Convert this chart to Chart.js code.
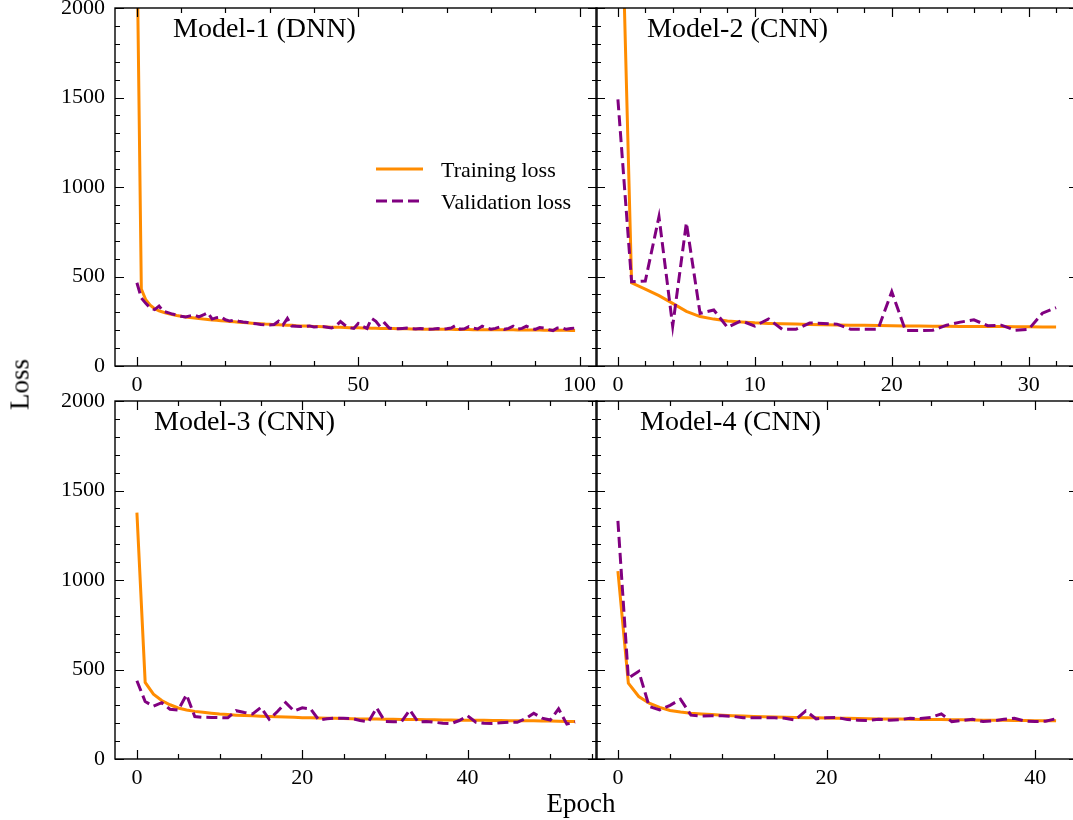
<!DOCTYPE html>
<html>
<head>
<meta charset="utf-8">
<script src="https://cdn.jsdelivr.net/npm/chart.js@4.4.1/dist/chart.umd.min.js"></script>
<style>
  html, body { margin: 0; padding: 0; width: 1073px; height: 820px; overflow: hidden; background: #fff; }
  .panel { position: absolute; }
  canvas { display: block; }
  .lbl { position: absolute; font-family: 'Liberation Serif', 'Times New Roman', serif; font-size: 27px;
         line-height: 27px; color: #000; text-align: center; white-space: nowrap; }
</style>
</head>
<body>
<div class="panel" style="left:0;top:0"><canvas id="c1" width="610" height="400"></canvas></div>
<div class="panel" style="left:586px;top:0"><canvas id="c2" width="505" height="400"></canvas></div>
<div class="panel" style="left:0;top:390px"><canvas id="c3" width="610" height="403"></canvas></div>
<div class="panel" style="left:586px;top:390px"><canvas id="c4" width="505" height="403"></canvas></div>
<div class="lbl" style="left:481px;top:790px;width:200px">Epoch</div>
<div class="lbl" style="left:-30px;top:371px;width:100px;transform:rotate(-90deg)">Loss</div>
<script>
// tick labels
const yTicks = [0, 500, 1000, 1500, 2000];
const m1Ticks = [0, 50, 100];
const m2Ticks = [0, 10, 20, 30];
const m3Ticks = [0, 20, 40];
const m4Ticks = [0, 20, 40];

// Model-1 (DNN), 100 epochs
const m1Train = [2400, 430, 370, 340, 320, 308, 300, 293, 287, 282,
  278, 274, 271, 268, 265, 262, 260, 257, 255, 253,
  251, 249, 247, 245, 243, 241, 239, 237, 236, 234,
  233, 231, 230, 229, 228, 227, 225, 224, 223, 222,
  221, 220, 219, 218, 217, 217, 216, 215, 214, 214,
  213, 212, 212, 211, 211, 210, 210, 209, 209, 208,
  208, 208, 207, 207, 207, 206, 206, 206, 205, 205,
  205, 205, 204, 204, 204, 204, 203, 203, 203, 203,
  203, 202, 202, 202, 202, 202, 201, 201, 201, 201,
  201, 201, 200, 200, 200, 200, 200, 200, 199, 199];
const m1Val = [465, 380, 350, 325, 315, 335, 305, 298, 290, 285,
  278, 274, 280, 285, 275, 285, 298, 262, 270, 275,
  258, 251, 257, 250, 246, 243, 238, 236, 232, 230,
  229, 232, 250, 229, 266, 223, 222, 220, 221, 224,
  218, 219, 220, 216, 212, 225, 248, 228, 214, 210,
  238, 222, 210, 266, 250, 218, 240, 212, 207, 208,
  210, 212, 209, 207, 210, 208, 206, 207, 209, 206,
  208, 212, 226, 206, 208, 220, 212, 207, 222, 212,
  206, 210, 218, 205, 210, 222, 206, 210, 222, 212,
  204, 215, 212, 203, 198, 212, 214, 205, 210, 212];

// Model-2 (CNN), 33 epochs
const m2Train = [3400, 465, 430, 393, 350, 305, 276, 262, 252, 246,
  241, 238, 236, 234, 232, 230, 229, 228, 227, 226,
  225, 224, 223, 222, 222, 221, 221, 220, 220, 219,
  219, 218, 218];
const m2Val = [1490, 471, 475, 834, 223, 800, 294, 313, 216, 253,
  223, 263, 205, 205, 240, 238, 234, 205, 205, 206,
  415, 198, 198, 200, 228, 245, 258, 225, 228, 200,
  205, 295, 326];

// Model-3 (CNN), 54 epochs
const m3Train = [1376, 428, 362, 327, 303, 285, 274, 266, 261, 256,
  251, 248, 245, 243, 241, 239, 237, 236, 234, 233,
  231, 230, 229, 228, 227, 226, 225, 224, 224, 223,
  222, 222, 221, 221, 220, 219, 219, 218, 218, 217,
  217, 216, 216, 215, 215, 214, 214, 213, 213, 212,
  212, 211, 210, 209];
const m3Val = [437, 321, 295, 315, 278, 274, 359, 237, 233, 232,
  231, 230, 270, 260, 252, 288, 222, 265, 315, 268,
  286, 280, 218, 225, 228, 227, 226, 215, 207, 286,
  209, 208, 209, 274, 207, 210, 205, 200, 198, 215,
  241, 205, 200, 198, 202, 205, 205, 225, 256, 228,
  218, 280, 195, 207];

// Model-4 (CNN), 43 epochs
const m4Train = [1049, 424, 349, 312, 288, 271, 262, 256, 252, 248,
  245, 242, 240, 238, 236, 235, 233, 232, 231, 230,
  229, 228, 227, 226, 225, 224, 223, 223, 222, 221,
  221, 220, 219, 219, 218, 217, 217, 216, 215, 215,
  214, 214, 213];
const m4Val = [1330, 452, 490, 293, 274, 300, 334, 245, 240, 242,
  241, 238, 231, 230, 231, 230, 228, 218, 269, 224,
  230, 232, 220, 217, 215, 222, 217, 220, 227, 226,
  232, 252, 209, 215, 222, 209, 213, 222, 227, 212,
  209, 211, 225];

const ORANGE = '#ff8c00';
const PURPLE = '#800080';
const SERIF = "'Liberation Serif', 'Times New Roman', serif";

Chart.defaults.font.family = SERIF;
Chart.defaults.font.size = 22;
Chart.defaults.color = '#000';

function points(vals) {
  return vals.map((v, i) => ({ x: i, y: v }));
}

// frame, inward ticks, panel title and (optional) legend
const panelDecor = {
  id: 'panelDecor',
  afterDatasetsDraw(chart, args, opts) {
    const { ctx, chartArea: a } = chart;
    const x = chart.scales.x, y = chart.scales.y;
    ctx.save();
    ctx.strokeStyle = '#000';
    ctx.lineWidth = 1.2;
    ctx.beginPath();
    const xTick = (v, len) => {
      const px = Math.round(x.getPixelForValue(v)) + 0.5;
      ctx.moveTo(px, a.bottom); ctx.lineTo(px, a.bottom - len);
      ctx.moveTo(px, a.top); ctx.lineTo(px, a.top + len);
    };
    const yTick = (v, len) => {
      const py = Math.round(y.getPixelForValue(v)) + 0.5;
      ctx.moveTo(a.left, py); ctx.lineTo(a.left + len, py);
      ctx.moveTo(a.right, py); ctx.lineTo(a.right - len, py);
    };
    opts.xMajor.forEach(v => xTick(v, 9));
    for (let v = Math.ceil(x.min / opts.xMinor) * opts.xMinor; v <= x.max; v += opts.xMinor) {
      if (!opts.xMajor.includes(v)) xTick(v, 5);
    }
    yTicks.forEach(v => yTick(v, 9));
    for (let v = 0; v <= 2000; v += 100) {
      if (!yTicks.includes(v)) yTick(v, 5);
    }
    ctx.stroke();
    ctx.lineWidth = 1.4;
    ctx.strokeRect(a.left, a.top, a.right - a.left, a.bottom - a.top);

    ctx.fillStyle = '#000';
    ctx.font = '28px ' + SERIF;
    ctx.textBaseline = 'alphabetic';
    ctx.fillText(opts.title, a.left + opts.titleDx, a.top + 29);

    if (opts.legend) {
      ctx.font = '22px ' + SERIF;
      chart.data.datasets.forEach((ds, i) => {
        const ly = a.top + 161 + i * 32;
        ctx.save();
        ctx.strokeStyle = ds.borderColor;
        ctx.lineWidth = ds.borderWidth;
        ctx.setLineDash(ds.borderDash || []);
        ctx.beginPath();
        ctx.moveTo(a.left + 261, ly);
        ctx.lineTo(a.left + 308, ly);
        ctx.stroke();
        ctx.restore();
        ctx.fillText(ds.label, a.left + 326, ly + 8);
      });
    }
    ctx.restore();
  }
};

function makePanel(id, cfg) {
  return new Chart(document.getElementById(id), {
    type: 'line',
    data: {
      datasets: [
        { label: 'Training loss', data: points(cfg.train), borderColor: ORANGE, borderWidth: 3, order: 1 },
        { label: 'Validation loss', data: points(cfg.val), borderColor: PURPLE, borderWidth: 3,
          borderDash: [11, 5], order: 0 }
      ]
    },
    options: {
      responsive: false,
      animation: false,
      events: [],
      elements: { point: { radius: 0 }, line: { tension: 0, fill: false } },
      layout: { padding: cfg.pad },
      scales: {
        x: {
          type: 'linear', min: cfg.xMin, max: cfg.xMax,
          grid: { display: false, drawTicks: false }, border: { display: false },
          ticks: { padding: 6, autoSkip: false, maxRotation: 0, callback: v => String(v) },
          afterBuildTicks: s => { s.ticks = cfg.xTicks.map(v => ({ value: v })); },
          afterFit: s => { s.height = 34; s.paddingLeft = 0; s.paddingRight = 0; }
        },
        y: {
          type: 'linear', min: 0, max: 2000, display: cfg.showY,
          grid: { display: false, drawTicks: false }, border: { display: false },
          ticks: { padding: 10, callback: v => String(v) },
          afterBuildTicks: s => { s.ticks = yTicks.map(v => ({ value: v })); },
          afterFit: s => { s.width = cfg.showY ? 115 : 0; s.paddingTop = 0; s.paddingBottom = 0; }
        }
      },
      plugins: {
        legend: { display: false },
        tooltip: { enabled: false },
        panelDecor: { title: cfg.title, titleDx: cfg.titleDx, legend: !!cfg.legend,
                      xMajor: cfg.xTicks, xMinor: cfg.xMinor }
      }
    },
    plugins: [panelDecor]
  });
}

makePanel('c1', { train: m1Train, val: m1Val, xTicks: m1Ticks, xMinor: 10, xMin: -4.95, xMax: 103.95,
  showY: true, pad: { left: 0, top: 8, right: 13, bottom: 0 }, title: 'Model-1 (DNN)', titleDx: 58, legend: true });
makePanel('c2', { train: m2Train, val: m2Val, xTicks: m2Ticks, xMinor: 2, xMin: -1.6, xMax: 33.6,
  showY: false, pad: { left: 10, top: 8, right: 13, bottom: 0 }, title: 'Model-2 (CNN)', titleDx: 51 });
makePanel('c3', { train: m3Train, val: m3Val, xTicks: m3Ticks, xMinor: 5, xMin: -2.65, xMax: 55.65,
  showY: true, pad: { left: 0, top: 11, right: 13, bottom: 0 }, title: 'Model-3 (CNN)', titleDx: 39 });
makePanel('c4', { train: m4Train, val: m4Val, xTicks: m4Ticks, xMinor: 5, xMin: -2.1, xMax: 44.1,
  showY: false, pad: { left: 10, top: 11, right: 13, bottom: 0 }, title: 'Model-4 (CNN)', titleDx: 44 });
</script>
</body>
</html>
